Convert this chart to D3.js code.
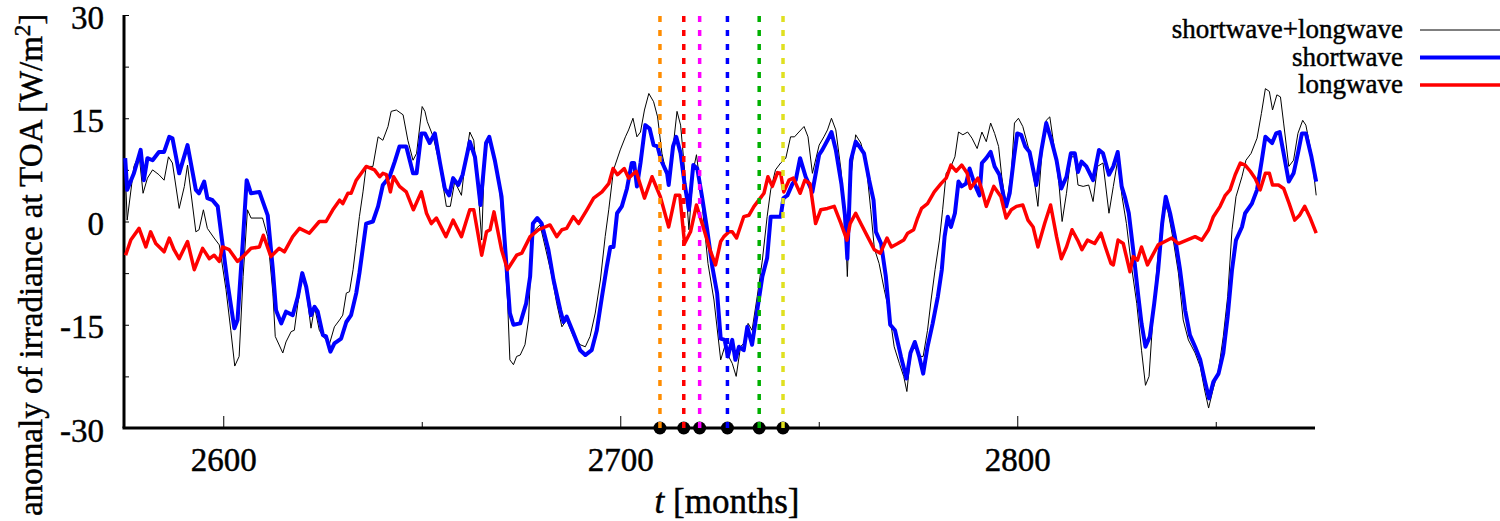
<!DOCTYPE html>
<html>
<head>
<meta charset="utf-8">
<script src="https://cdn.jsdelivr.net/npm/d3@7"></script>
<style>
  body { margin: 0; background: #fff; }
  svg { display: block; font-family: "Liberation Serif", "Times New Roman", serif; }
  text { stroke: #000; stroke-width: 0.45px; }
</style>
</head>
<body>
<svg id="vis"></svg>
<script>
const WIDTH = 1500;
const HEIGHT = 521;

// [month, anomaly W/m^2]
const totalPts = [
  [2575.3,7.5],[2575.8,0.2],[2577.5,8.0],[2578.8,9.7],[2579.8,4.1],[2580.9,6.3],[2582.2,7.5],[2583.8,6.8],[2585.1,6.0],[2586.2,9.4],
  [2587.2,8.5],[2588.9,1.9],[2590.2,5.1],[2591,8.2],[2593.1,-1.5],[2593.9,-1.2],[2595,1.7],[2596,-1.0],[2597.7,-2.4],[2599,-3.4],
  [2600.7,-9.9],[2601.9,-15.8],[2602.9,-21.0],[2604,-19.6],[2605,-8.0],[2606.1,1.7],[2607,0.5],[2609.9,0.5],[2611.2,-2.2],[2612.5,-10.4],
  [2613.1,-16.7],[2615,-19.1],[2615.8,-17.5],[2617.1,-16.0],[2617.9,-15.8],[2618.8,-11.9],[2619.9,-8.0],[2620.9,-9.9],[2622.1,-15.5],[2623,-12.4],
  [2624.2,-15.8],[2625.1,-16.7],[2626.8,-17.7],[2628,-15.3],[2629.3,-14.3],[2630.1,-13.6],[2631,-10.4],[2631.8,-10.2],[2632.7,-7.0],[2633.5,-3.2],
  [2634.3,0.7],[2635.2,4.3],[2636,8.0],[2637.7,8.0],[2639,12.3],[2640.2,11.8],[2641.5,13.8],[2642.3,16.0],[2643.6,16.2],[2645.3,15.5],
  [2646.5,11.8],[2647.8,8.9],[2648.7,9.9],[2650.1,16.7],[2650.8,16.0],[2651.4,14.5],[2652.9,12.3],[2654.6,8.0],[2656.2,2.2],[2657.2,2.2],
  [2658.3,5.8],[2660,3.8],[2660.9,8.5],[2662.1,13.0],[2663.1,11.8],[2664.2,4.6],[2665.1,-2.7],[2665.9,10.9],[2667.2,12.3],[2669.3,6.5],
  [2670.5,-1.2],[2671.6,-11.4],[2672.2,-20.1],[2673.1,-20.8],[2673.9,-19.6],[2674.8,-19.4],[2676,-17.9],[2676.9,-14.3],[2677.7,-3.2],[2678.5,-1.2],
  [2679.8,-0.5],[2681.1,-3.7],[2682.8,-8.0],[2684,-11.9],[2685.3,-15.3],[2686.5,-14.3],[2688.2,-16.7],[2689.9,-17.9],[2691.2,-18.2],[2692.4,-16.7],
  [2693.7,-13.3],[2695,-8.5],[2696.2,-2.2],[2697.1,1.7],[2698.3,7.5],[2700,10.4],[2701.3,12.3],[2702.1,13.3],[2703.2,15.0],[2704.2,12.3],
  [2705.1,13.0],[2706.1,16.2],[2707.2,18.6],[2708.4,17.4],[2709.4,15.2],[2710.5,9.9],[2711.8,6.5],[2712.5,6.8],[2713.5,11.8],[2714.3,16.0],
  [2715.2,14.0],[2716.2,7.5],[2717.3,-1.2],[2718.4,7.5],[2719.2,9.7],[2720,6.0],[2721.1,-0.3],[2722.1,-6.1],[2723.6,-11.4],[2725.3,-20.1],
  [2726.3,-18.2],[2727.3,-19.6],[2728.2,-20.6],[2729.2,-22.5],[2730.3,-18.2],[2731.1,-17.7],[2732.2,-14.8],[2733.2,-15.8],[2734.5,-10.9],[2735.8,-5.6],
  [2737,0.7],[2737.9,4.6],[2739.1,7.5],[2740.4,8.5],[2741.7,9.2],[2742.9,12.3],[2743.9,12.3],[2745,13.0],[2746.3,13.8],[2747.3,12.3],
  [2748.4,7.0],[2750.1,11.1],[2751.3,12.3],[2752.2,13.3],[2753.2,15.0],[2754.3,13.3],[2755.6,7.5],[2756.6,0.7],[2757.2,-8.0],[2758.1,6.5],
  [2759.3,12.6],[2760.6,11.4],[2761.9,8.5],[2763.1,1.7],[2764,-3.9],[2765.2,-6.1],[2766.5,-9.9],[2767.8,-13.3],[2769,-18.2],[2770.3,-20.6],
  [2771.4,-22.5],[2772.2,-24.7],[2773.2,-19.1],[2774.2,-17.7],[2775.3,-19.6],[2776.3,-19.6],[2777.4,-15.8],[2778.3,-11.4],[2779.3,-7.0],[2780.4,-2.7],
  [2781.2,1.7],[2782.1,7.0],[2783.3,8.0],[2784.3,9.4],[2785.2,13.0],[2786.3,12.6],[2787.5,13.0],[2788.6,12.1],[2789.9,10.6],[2791.1,13.0],
  [2792.2,11.6],[2793.3,14.3],[2794.3,12.8],[2795.3,10.9],[2796.1,6.5],[2797.2,2.2],[2798.5,7.0],[2799.3,14.3],[2800.3,15.0],[2801.4,13.8],
  [2802.5,11.4],[2803.1,10.1],[2804.4,5.5],[2805.2,2.2],[2806.2,9.9],[2807.3,14.7],[2808.2,15.2],[2809.4,10.4],[2810.5,5.5],[2811.3,0],
  [2812.4,4.1],[2813.5,9.4],[2814.5,9.4],[2815.3,5.3],[2816.6,5.1],[2818,5.3],[2819.1,2.9],[2820.2,8.0],[2821.6,8.5],[2823.1,1.2],
  [2824.2,5.1],[2825.3,8.9],[2826.4,3.6],[2827.5,-0.3],[2828.8,-6.6],[2830.1,-11.9],[2831.3,-18.7],[2832.3,-23.8],[2833.2,-22.5],[2834.3,-12.9],
  [2835.5,-4.6],[2836.8,2.2],[2837.9,1.7],[2839.3,-2.7],[2840.6,-7.5],[2841.8,-14.3],[2843.1,-17.2],[2844.8,-19.1],[2846.1,-21.1],[2847.2,-24.5],
  [2848.2,-27.1],[2849.4,-24.2],[2850.7,-21.6],[2851.9,-16.7],[2853,-10.9],[2854.1,-1.2],[2855.1,3.6],[2856.6,6.5],[2857.6,8.9],[2858.9,9.9],
  [2860.4,12.1],[2861.5,15.7],[2862.5,19.3],[2863.5,18.9],[2864.3,16.2],[2865.4,18.4],[2866.3,18.1],[2867.1,14.3],[2868.4,8.0],[2869.6,8.9],
  [2870.7,12.8],[2871.9,14.7],[2872.7,14.0],[2874.1,9.9],[2875.3,3.8]
];

const shortPts = [
  [2575.3,9.2],[2575.8,4.6],[2577.5,7.0],[2579.2,10.4],[2580,6.0],[2580.9,9.2],[2582.2,8.9],[2583.8,10.1],[2585.1,10.1],[2586.4,12.3],
  [2587.2,12.1],[2588.9,7.0],[2591,11.1],[2593.1,4.6],[2593.9,4.1],[2595.2,5.8],[2596,3.4],[2597.3,3.1],[2598.6,2.2],[2599.8,-3.2],
  [2601.1,-9.0],[2602.8,-15.5],[2603.6,-14.3],[2604.9,-3.2],[2605.9,6.0],[2607,4.1],[2609.1,4.3],[2611.2,0.9],[2612.5,-7.0],[2613.3,-12.9],
  [2614.6,-14.8],[2615.8,-13.1],[2617.5,-13.6],[2618.8,-10.9],[2619.9,-7.5],[2620.9,-9.5],[2622.1,-13.6],[2623,-12.4],[2623.8,-13.1],[2625.1,-16.5],
  [2625.9,-16.7],[2627,-18.9],[2628,-17.7],[2629.7,-17.0],[2631,-14.6],[2632.2,-13.6],[2633.5,-10.4],[2634.3,-7.5],[2636,-0.3],[2637.7,0],
  [2639,2.2],[2640.2,5.3],[2641.9,6.5],[2643.2,8.7],[2644.4,10.9],[2646.1,10.9],[2647.8,7.0],[2648.7,7.0],[2649.9,12.8],[2650.8,12.8],
  [2652,11.4],[2653.3,12.8],[2654.6,8.5],[2655.8,4.8],[2656.9,3.8],[2657.9,6.3],[2659.2,5.3],[2660.3,6.8],[2662.1,11.6],[2663.4,9.4],
  [2664.8,2.4],[2666.2,11.4],[2667,12.3],[2668.4,8.9],[2670.1,3.6],[2671.4,-7.0],[2672.2,-13.3],[2673.1,-15.0],[2674.8,-14.8],[2676.3,-11.9],
  [2677.3,-8.0],[2678,-0.3],[2679.1,0.5],[2680.2,-0.3],[2681.9,-4.1],[2683.2,-8.5],[2684.9,-12.9],[2685.7,-14.6],[2686.5,-13.8],[2688.2,-16.2],
  [2689.9,-18.7],[2691.2,-19.4],[2692.8,-18.7],[2694.1,-15.8],[2695.4,-10.9],[2696.6,-6.6],[2697.5,-3.7],[2698.3,-3.7],[2699.2,1.2],[2700.4,2.2],
  [2701.7,4.8],[2702.9,8.5],[2703.5,8.5],[2704.2,5.1],[2705.1,8.5],[2706.3,14.0],[2707.4,13.5],[2708.4,11.1],[2709.4,10.9],[2710.3,8.9],
  [2711.8,7.0],[2712.2,5.3],[2713.3,10.9],[2714.1,12.3],[2715.2,9.9],[2716.2,5.5],[2717.3,1.7],[2718.4,8.2],[2719.4,7.7],[2720.6,3.6],
  [2721.9,-1.2],[2723.2,-6.6],[2724.4,-10.4],[2725.3,-17.0],[2726.3,-17.2],[2727.1,-19.6],[2728.2,-17.2],[2729,-20.1],[2729.9,-18.2],[2731.1,-18.7],
  [2732,-15.3],[2733.2,-17.9],[2734.5,-12.9],[2735.8,-8.0],[2737,-5.3],[2737.9,0.7],[2739.1,0.7],[2740.4,0.7],[2741.1,3.4],[2742.1,3.8],
  [2743.4,5.5],[2744.2,6.0],[2745.3,9.2],[2746.7,6.5],[2748.4,4.3],[2750.1,9.7],[2750.9,10.4],[2752.2,11.8],[2753.2,13.0],[2754.3,10.4],
  [2755.7,5.5],[2756.6,0.9],[2757.2,-5.4],[2758.1,8.9],[2759.3,11.6],[2760.6,10.6],[2761.4,9.9],[2762.7,6.0],[2763.8,3.1],[2764.4,-1.5],
  [2765.7,-3.2],[2766.9,-8.0],[2768,-15.0],[2769.2,-15.8],[2770.7,-19.6],[2772.1,-22.8],[2773.1,-19.1],[2774.2,-17.5],[2775.3,-19.6],[2776.3,-22.1],
  [2777.4,-18.2],[2778.7,-14.8],[2780,-10.9],[2781,-7.0],[2781.7,-2.2],[2782.5,0.7],[2783.3,-0.8],[2784.3,1.2],[2785.2,5.8],[2786,5.1],
  [2787.1,5.5],[2788,7.7],[2789.2,5.5],[2790.5,3.8],[2791.1,8.5],[2792.2,9.2],[2793.3,10.1],[2794.3,8.0],[2795.5,6.8],[2796.4,4.1],
  [2797.2,2.2],[2798.1,4.1],[2799.2,9.4],[2800,12.8],[2801,12.6],[2802,10.9],[2803.1,10.1],[2804.8,5.3],[2806.1,10.4],[2807.3,14.3],
  [2808.6,11.8],[2809.9,8.9],[2811.1,4.8],[2812.4,6.5],[2813.5,9.9],[2814.5,9.9],[2815.3,7.2],[2816.2,8.7],[2817.4,8.0],[2819.1,6.0],
  [2820.6,10.4],[2821.6,9.9],[2823.1,6.8],[2824.2,8.0],[2825.3,10.1],[2826.3,5.1],[2827.1,3.6],[2828.1,1.2],[2829.2,-4.1],[2830.5,-10.9],
  [2831.3,-14.8],[2832.3,-18.2],[2833.4,-16.7],[2834.5,-11.9],[2835.5,-7.0],[2836.5,-0.3],[2837.4,3.6],[2838.5,1.2],[2839.7,-2.2],[2841,-7.0],
  [2842.3,-12.9],[2843.5,-16.5],[2844.8,-18.2],[2846.1,-20.1],[2847.2,-23.0],[2848.3,-25.7],[2849.4,-23.3],[2850.7,-22.1],[2851.9,-19.1],[2853,-13.8],
  [2854.1,-7.0],[2855.1,-2.7],[2856.6,-0.8],[2857.4,1.2],[2859.1,2.6],[2860.4,4.6],[2861.6,8.9],[2862.5,12.3],[2864.2,11.4],[2865.2,12.8],
  [2866.1,13.0],[2867.1,9.9],[2868.4,5.8],[2869.6,7.0],[2870.7,9.9],[2871.7,12.8],[2872.7,12.8],[2874.1,9.4],[2875.3,5.8]
];

const longPts = [
  [2575.4,-4.9],[2576.7,-2.7],[2578.8,-1.0],[2580.5,-3.7],[2581.7,-1.5],[2583,-3.2],[2585.1,-4.4],[2586.4,-2.4],[2587.6,-4.1],[2588.9,-5.4],
  [2591,-2.9],[2592.7,-7.0],[2594.8,-3.9],[2596.5,-5.4],[2597.7,-4.9],[2599,-5.8],[2599.8,-3.7],[2601.5,-4.1],[2603.6,-5.8],[2605.3,-4.9],
  [2607,-3.9],[2609.1,-3.7],[2610.1,-2.0],[2612,-5.1],[2614.1,-3.9],[2615.4,-4.4],[2617.5,-2.2],[2619.2,-1.0],[2621.7,-1.7],[2624.2,0],
  [2625.9,0],[2627.6,1.7],[2629.3,3.1],[2630.1,2.6],[2631.4,4.1],[2632.2,4.1],[2633.5,6.0],[2636,8.0],[2638.1,7.5],[2639.4,6.5],
  [2640.2,7.0],[2641.1,6.8],[2642.1,4.3],[2642.9,6.5],[2644.4,5.1],[2646.1,4.3],[2647.9,1.7],[2649.9,4.3],[2651.2,1.2],[2652.4,-0.3],
  [2653.7,0.5],[2656.1,-2.2],[2657.9,0.2],[2660,-2.2],[2662.1,1.7],[2663.1,1.7],[2665.1,-4.9],[2666.3,-1.5],[2667.2,-1.2],[2668.2,1.4],
  [2670.1,-4.1],[2671.6,-7.0],[2673.9,-4.9],[2675.2,-4.6],[2677.3,-2.2],[2679.4,-1.2],[2682.3,-0.5],[2684,-2.2],[2685.3,-1.2],[2686.5,-1.0],
  [2688.2,0.7],[2689.5,-0.3],[2691.6,1.7],[2693.3,3.4],[2695.4,4.3],[2697.1,5.5],[2698.2,7.7],[2699.3,6.8],[2701,7.7],[2702.1,6.3],
  [2704,7.3],[2706.1,3.4],[2708,6.5],[2710.1,3.6],[2712.2,-0.8],[2713.9,3.8],[2715,3.8],[2716.2,-3.2],[2717.7,-1.5],[2719.2,2.4],
  [2721.1,-1.2],[2722.6,-4.1],[2724,-6.3],[2725.3,-2.9],[2726.1,-2.2],[2727.4,-1.5],[2728.2,-1.5],[2729.3,-2.4],[2731.1,0.7],[2732.4,0.9],
  [2733.7,2.2],[2734.9,3.1],[2736.2,4.1],[2737.2,6.5],[2738.3,5.1],[2739.6,7.1],[2740.4,7.0],[2741.2,4.3],[2742.5,6.0],[2743.6,6.3],
  [2745.3,4.1],[2746.5,6.0],[2747.8,5.5],[2749.2,-0.3],[2750.5,1.7],[2752.2,1.9],[2753.9,2.2],[2755.6,-0.3],[2757.1,-2.7],[2757.9,-0.3],
  [2759.3,1.2],[2760.6,-0.3],[2762.3,-2.2],[2764,-4.1],[2765.5,-4.6],[2767.2,-2.4],[2768.3,-3.7],[2769.9,-3.2],[2771.4,-2.7],[2772.4,-1.7],
  [2773.9,-1.2],[2774.9,0.5],[2775.9,1.9],[2777.4,2.6],[2779.1,4.3],[2780.8,5.5],[2782.1,6.3],[2783.3,8.2],[2784.6,7.3],[2786,8.2],
  [2787.4,7.0],[2788.2,4.8],[2790.1,6.3],[2791.1,4.6],[2792.2,2.2],[2794.1,5.1],[2795.9,3.6],[2797.2,0.5],[2798.5,1.7],[2799.8,2.2],
  [2801.4,2.4],[2802.7,0.2],[2804,-0.8],[2805.2,-3.7],[2806.9,-0.3],[2808.4,2.4],[2809.9,-2.2],[2811.1,-5.4],[2812.4,-3.7],[2813.8,-1.2],
  [2815.2,-2.7],[2816.3,-4.1],[2817.7,-2.7],[2819.5,-3.2],[2821.1,-1.7],[2822.2,-3.7],[2823.6,-6.1],[2824.2,-6.3],[2825.4,-2.7],[2826.7,-3.2],
  [2828.4,-7.3],[2829.2,-5.1],[2830.3,-5.6],[2831.3,-3.7],[2832.8,-6.3],[2833.9,-5.1],[2835.5,-3.4],[2837.2,-2.9],[2838.9,-2.4],[2840.6,-3.2],
  [2842.7,-2.7],[2844.8,-2.2],[2846.5,-2.7],[2848.2,-1.2],[2849.4,0.7],[2851.1,2.2],[2852.4,3.8],[2853.6,4.6],[2854.9,6.8],[2856.2,8.5],
  [2857.4,8.2],[2858.7,7.3],[2859.9,6.3],[2861.2,4.6],[2862.5,7.0],[2863.5,7.0],[2864.3,5.3],[2865.8,5.3],[2867.1,4.8],[2868.5,2.6],
  [2869.9,0.2],[2871.1,0.9],[2872.4,2.2],[2873.8,0.5],[2875.3,-1.7]
];

// marked months (vertical dotted lines)
const markMonths = [2710, 2716, 2720, 2727, 2735, 2741];
const markColors = ["#ff8c00", "#ff0000", "#ff00ff", "#0000ff", "#00b000", "#e0e020"];

const seriesNames = ["shortwave+longwave", "shortwave", "longwave"];
const seriesColors = ["#000000", "#0000ff", "#ff0000"];
const seriesWidths = [1, 4, 3.5];

const xMajor = [2600, 2700, 2800];
const xMinor = [2650, 2750, 2850];
const yTicks = [-30, -22.5, -15, -7.5, 0, 7.5, 15, 22.5, 30];

const LEFT = 124, RIGHT = 1315, TOP = 15, BOTTOM = 428;

const svg = d3.select("#vis")
    .attr("width", WIDTH)
    .attr("height", HEIGHT);

const x = d3.scaleLinear().domain([2575, 2875]).range([LEFT, RIGHT]);
const y = d3.scaleLinear().domain([-30, 30]).range([BOTTOM, TOP]);

// axes (ticks point inwards)
const gy = svg.append("g")
    .attr("transform", `translate(${LEFT},0)`)
    .call(d3.axisLeft(y).tickValues(yTicks).tickSize(-5).tickPadding(20)
        .tickFormat(d => d % 15 === 0 ? d : ""));
gy.selectAll("text").attr("dy", "0.4em");

const gx = svg.append("g")
    .attr("transform", `translate(0,${BOTTOM})`)
    .call(d3.axisBottom(x).tickValues(xMajor).tickSize(-12).tickPadding(20)
        .tickFormat(d3.format("d")));

const gx2 = svg.append("g")
    .attr("transform", `translate(0,${BOTTOM})`)
    .call(d3.axisBottom(x).tickValues(xMinor).tickSize(-6).tickFormat(""));

[gy, gx, gx2].forEach(g => {
    g.select(".domain").remove();
    g.selectAll(".tick line").attr("stroke", "#000").attr("stroke-width", 1);
    g.selectAll("text")
        .attr("fill", "#000")
        .style("font-family", "'Liberation Serif', serif")
        .style("font-size", "33px");
});

// border: left and bottom only
svg.append("line")
    .attr("x1", LEFT).attr("x2", LEFT).attr("y1", TOP).attr("y2", BOTTOM)
    .attr("stroke", "#000").attr("stroke-width", 3);
svg.append("line")
    .attr("x1", LEFT - 1.5).attr("x2", RIGHT).attr("y1", BOTTOM).attr("y2", BOTTOM)
    .attr("stroke", "#000").attr("stroke-width", 3);

// series
const line = d3.line().x(d => x(d[0])).y(d => y(d[1]));
[totalPts, shortPts, longPts].forEach((pts, i) => {
    svg.append("path")
        .datum(pts)
        .attr("d", line)
        .attr("fill", "none")
        .attr("stroke", seriesColors[i])
        .attr("stroke-width", seriesWidths[i])
        .attr("stroke-linejoin", "round");
});

// marker dots on the axis
svg.selectAll(".mark-dot")
    .data(markMonths)
    .join("circle")
    .attr("class", "mark-dot")
    .attr("cx", d => x(d))
    .attr("cy", BOTTOM)
    .attr("r", 6.5)
    .attr("fill", "#000");

// vertical dotted lines, drawn bottom -> top so a dash ends on the dot
svg.selectAll(".mark-line")
    .data(markMonths)
    .join("line")
    .attr("class", "mark-line")
    .attr("x1", d => x(d)).attr("x2", d => x(d))
    .attr("y1", BOTTOM).attr("y2", TOP)
    .attr("stroke", (d, i) => markColors[i])
    .attr("stroke-width", 3.5)
    .attr("stroke-dasharray", "6 8");

// legend
const legend = svg.append("g");
seriesNames.forEach((name, i) => {
    const ly = 30 + i * 27.5;
    legend.append("text")
        .attr("x", 1403).attr("y", ly + 8)
        .attr("text-anchor", "end")
        .style("font-size", "27px")
        .attr("fill", "#000")
        .text(name);
    legend.append("line")
        .attr("x1", 1420).attr("x2", 1500)
        .attr("y1", ly).attr("y2", ly)
        .attr("stroke", seriesColors[i])
        .attr("stroke-width", seriesWidths[i]);
});

// axis titles
const yl = svg.append("text")
    .attr("transform", "translate(42,516) rotate(-90)")
    .attr("text-anchor", "start")
    .style("font-size", "33px")
    .attr("fill", "#000");
yl.append("tspan").text("anomaly of irradiance at TOA [W/m");
yl.append("tspan").attr("baseline-shift", "super").style("font-size", "23px").text("2");
yl.append("tspan").text("]");

const xl = svg.append("text")
    .attr("x", 727).attr("y", 513)
    .attr("text-anchor", "middle")
    .style("font-size", "35px")
    .attr("fill", "#000");
xl.append("tspan").style("font-style", "italic").text("t");
xl.append("tspan").text(" [months]");
</script>
</body>
</html>
